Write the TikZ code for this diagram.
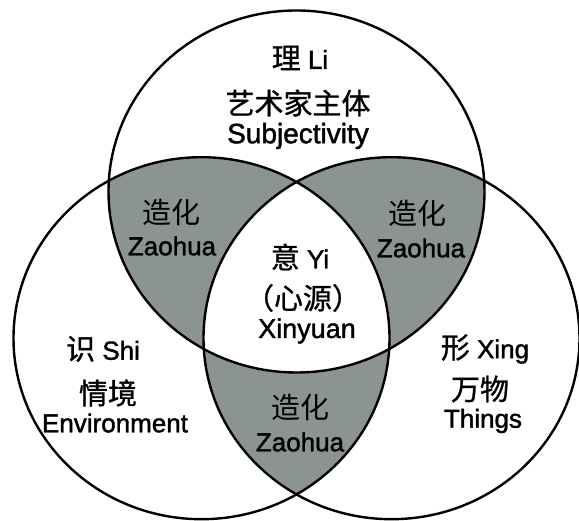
\documentclass[tikz,border=0pt]{standalone}
\usepackage{fontspec}
\setmainfont{Liberation Sans}[FakeBold=1.5]
\newfontfamily\cjk{Noto Sans CJK SC}[FakeBold=1.0]
\newfontfamily\cjklight{Noto Sans CJK SC}
\newcommand{\cjkt}[1]{{\cjk\fontsize{29}{31}\selectfont #1}}
\newcommand{\cjkl}[1]{{\cjklight\fontsize{29}{31}\selectfont #1}}
\definecolor{lensgray}{RGB}{140,148,144}
\begin{document}
\begin{tikzpicture}[x=1pt,y=-1pt,
  ring/.style={line width=2.4pt, draw=black},
  lbl/.style={font=\fontsize{26}{28}\selectfont, inner sep=0pt, text=black},
  biglbl/.style={lbl, font=\fontsize{28}{30}\selectfont}]
\useasboundingbox (0,0) rectangle (579,521);
\fill[white] (0,0) rectangle (579,521);
\coordinate (T) at (296.5,191.5);
\coordinate (L) at (201.5,338.2);
\coordinate (R) at (391.5,338.2);
\def\rx{188}\def\ry{181}
% shaded pairwise lenses
\begin{scope}
  \clip (T) ellipse [x radius=\rx, y radius=\ry];
  \fill[lensgray] (L) ellipse [x radius=\rx, y radius=\ry];
  \fill[lensgray] (R) ellipse [x radius=\rx, y radius=\ry];
\end{scope}
\begin{scope}
  \clip (L) ellipse [x radius=\rx, y radius=\ry];
  \fill[lensgray] (R) ellipse [x radius=\rx, y radius=\ry];
\end{scope}
% white centre
\begin{scope}
  \clip (T) ellipse [x radius=\rx, y radius=\ry];
  \clip (L) ellipse [x radius=\rx, y radius=\ry];
  \fill[white] (R) ellipse [x radius=\rx, y radius=\ry];
\end{scope}
% outlines
\draw[ring] (T) ellipse [x radius=\rx, y radius=\ry];
\draw[ring] (L) ellipse [x radius=\rx, y radius=\ry];
\draw[ring] (R) ellipse [x radius=\rx, y radius=\ry];
% top circle
\node[lbl] (li) at (300,58) {\cjkt{理} Li};
\node[lbl] (subcn) at (298,103) {\cjkt{艺术家主体}};
\node[biglbl] (sub) at (298,136) {Subjectivity};
% lenses
\node[lbl] (zhL) at (171,212) {\cjkl{造化}};
\node[lbl] (zaL) at (172,246) {Zaohua};
\node[lbl] (zhR) at (417,213) {\cjkl{造化}};
\node[lbl] (zaR) at (421,248) {Zaohua};
\node[lbl] (zhB) at (300,407) {\cjkl{造化}};
\node[lbl] (zaB) at (300,442) {Zaohua};
% centre
\node[lbl] (yi) at (300,257) {\cjkt{意} Yi};
\node[lbl] (xy) at (303,298) {\cjkt{（心源）}};
\node[lbl, font=\fontsize{27}{29}\selectfont] (xyE) at (307,331) {Xinyuan};
% left circle
\node[lbl] (shi) at (103,349) {\cjkt{识} Shi};
\node[lbl] (qj) at (108,393) {\cjkt{情境}};
\node[lbl] (env) at (115,423) {Environment};
% right circle
\node[lbl] (xing) at (485,349) {\cjkt{形} Xing};
\node[lbl] (ww) at (480,389) {\cjkt{万物}};
\node[lbl] (th) at (483,421) {Things};
\end{tikzpicture}
\end{document}
